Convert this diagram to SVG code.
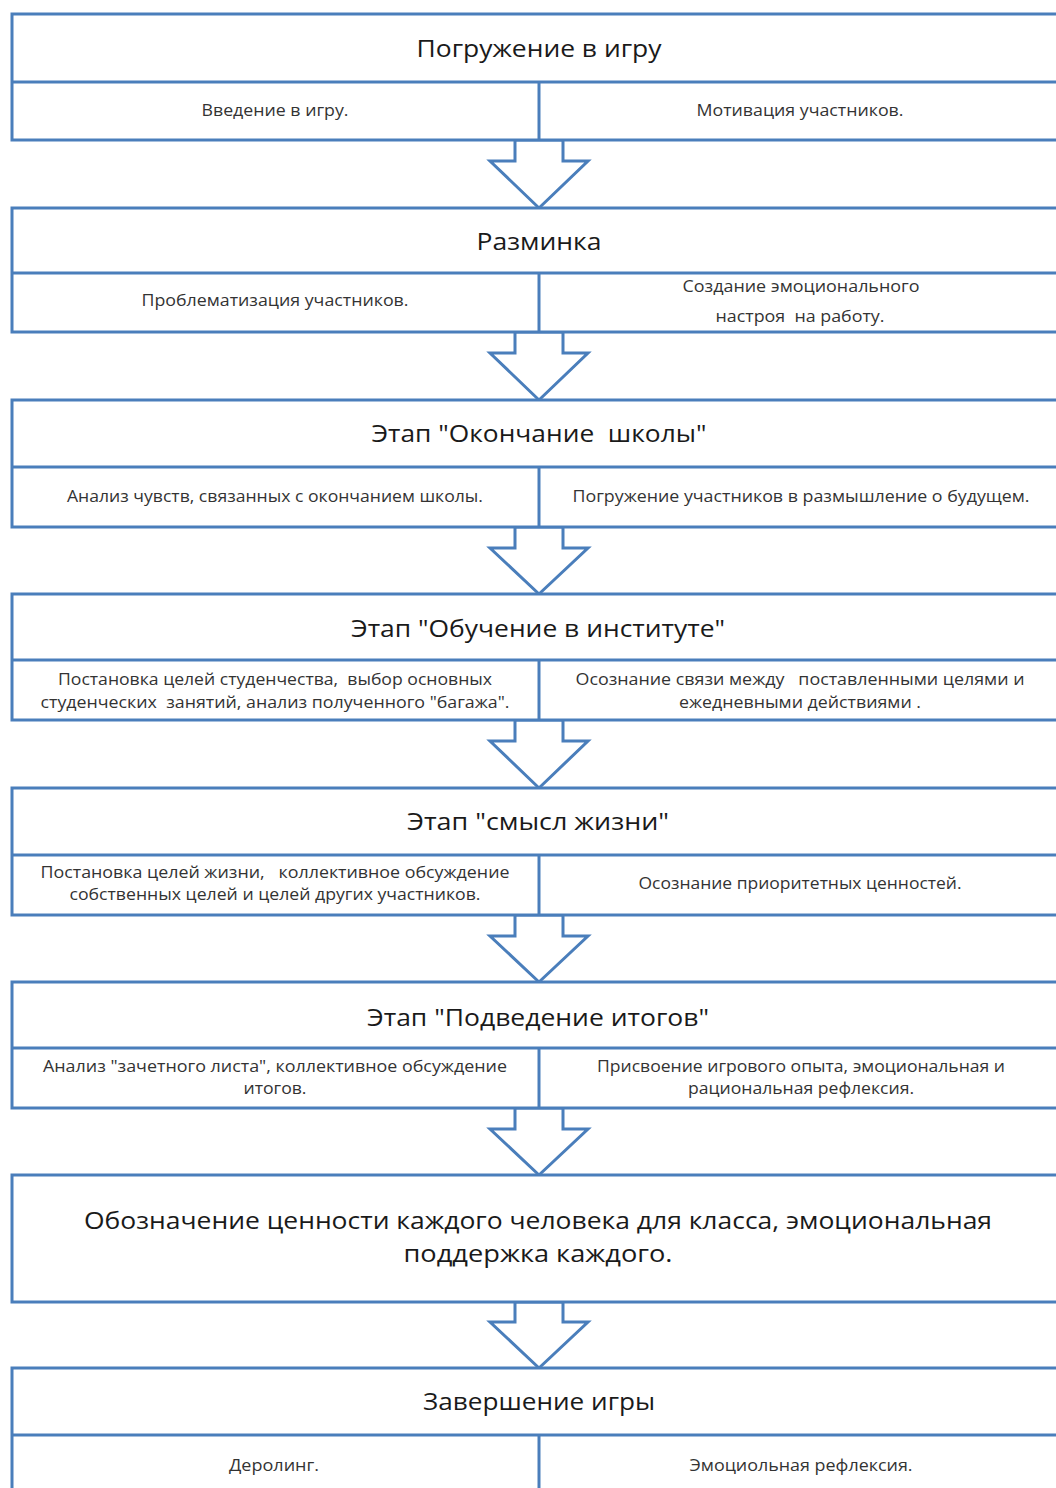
<svg xmlns="http://www.w3.org/2000/svg" width="1056" height="1488" viewBox="0 0 1056 1488">
<style>
.box{fill:#fff;stroke:#4a7ebb;stroke-width:3}
.ln{stroke:#4a7ebb;stroke-width:3;fill:none}
.arr{fill:#fff;stroke:#4a7ebb;stroke-width:3;stroke-linejoin:miter}
.h{font-family:"Open Sans","Liberation Sans",sans-serif;font-size:23px;fill:#1a1a1a;text-anchor:middle}
.s{font-family:"Open Sans","Liberation Sans",sans-serif;font-size:15.5px;fill:#333;text-anchor:middle}
</style>
<rect width="1056" height="1488" fill="#fff"/>
<g id="connectors">
<polygon class="arr" points="515,140 563,140 563,161 588,161 539,208 490,161 515,161"/>
<polygon class="arr" points="515,332 563,332 563,353 588,353 539,400 490,353 515,353"/>
<polygon class="arr" points="515,527 563,527 563,548 588,548 539,594 490,548 515,548"/>
<polygon class="arr" points="515,720 563,720 563,741 588,741 539,788 490,741 515,741"/>
<polygon class="arr" points="515,915 563,915 563,936 588,936 539,982 490,936 515,936"/>
<polygon class="arr" points="515,1108 563,1108 563,1129 588,1129 539,1175 490,1129 515,1129"/>
<polygon class="arr" points="515,1302 563,1302 563,1322 588,1322 539,1368 490,1322 515,1322"/>
</g>
<g id="n1">
<rect class="box" x="12" y="14" width="1060" height="126"/>
<line class="ln" x1="12" y1="82" x2="1072" y2="82"/>
<line class="ln" x1="539" y1="82" x2="539" y2="140"/>
<text class="h" x="539" y="57" textLength="245" lengthAdjust="spacingAndGlyphs">Погружение в игру</text>
<text class="s" x="275" y="116" textLength="147" lengthAdjust="spacingAndGlyphs">Введение в игру.</text>
<text class="s" x="800" y="116" textLength="207" lengthAdjust="spacingAndGlyphs">Мотивация участников.</text>
</g>
<g id="n2">
<rect class="box" x="12" y="208" width="1060" height="124"/>
<line class="ln" x1="12" y1="273" x2="1072" y2="273"/>
<line class="ln" x1="539" y1="273" x2="539" y2="332"/>
<text class="h" x="539" y="250" textLength="125" lengthAdjust="spacingAndGlyphs">Разминка</text>
<text class="s" x="275" y="306" textLength="267" lengthAdjust="spacingAndGlyphs">Проблематизация участников.</text>
<text class="s" x="801" y="292" textLength="237" lengthAdjust="spacingAndGlyphs">Создание эмоционального</text>
<text class="s" x="800" y="322" textLength="169" lengthAdjust="spacingAndGlyphs" xml:space="preserve">настроя  на работу.</text>
</g>
<g id="n3">
<rect class="box" x="12" y="400" width="1060" height="127"/>
<line class="ln" x1="12" y1="467" x2="1072" y2="467"/>
<line class="ln" x1="539" y1="467" x2="539" y2="527"/>
<text class="h" x="539" y="442" textLength="335" lengthAdjust="spacingAndGlyphs" xml:space="preserve">Этап "Окончание  школы"</text>
<text class="s" x="275" y="502" textLength="416" lengthAdjust="spacingAndGlyphs">Анализ чувств, связанных с окончанием школы.</text>
<text class="s" x="801" y="502" textLength="457" lengthAdjust="spacingAndGlyphs">Погружение участников в размышление о будущем.</text>
</g>
<g id="n4">
<rect class="box" x="12" y="594" width="1060" height="126"/>
<line class="ln" x1="12" y1="660" x2="1072" y2="660"/>
<line class="ln" x1="539" y1="660" x2="539" y2="720"/>
<text class="h" x="538" y="637" textLength="374" lengthAdjust="spacingAndGlyphs">Этап "Обучение в институте"</text>
<text class="s" x="275" y="685" textLength="434" lengthAdjust="spacingAndGlyphs" xml:space="preserve">Постановка целей студенчества,  выбор основных</text>
<text class="s" x="275" y="708" textLength="469" lengthAdjust="spacingAndGlyphs" xml:space="preserve">студенческих  занятий, анализ полученного "багажа".</text>
<text class="s" x="800" y="685" textLength="449" lengthAdjust="spacingAndGlyphs" xml:space="preserve">Осознание связи между   поставленными целями и</text>
<text class="s" x="800" y="708" textLength="242" lengthAdjust="spacingAndGlyphs">ежедневными действиями .</text>
</g>
<g id="n5">
<rect class="box" x="12" y="788" width="1060" height="127"/>
<line class="ln" x1="12" y1="855" x2="1072" y2="855"/>
<line class="ln" x1="539" y1="855" x2="539" y2="915"/>
<text class="h" x="538" y="830" textLength="262" lengthAdjust="spacingAndGlyphs">Этап "смысл жизни"</text>
<text class="s" x="275" y="878" textLength="469" lengthAdjust="spacingAndGlyphs" xml:space="preserve">Постановка целей жизни,   коллективное обсуждение</text>
<text class="s" x="275" y="900" textLength="411" lengthAdjust="spacingAndGlyphs">собственных целей и целей других участников.</text>
<text class="s" x="800" y="889" textLength="323" lengthAdjust="spacingAndGlyphs">Осознание приоритетных ценностей.</text>
</g>
<g id="n6">
<rect class="box" x="12" y="982" width="1060" height="126"/>
<line class="ln" x1="12" y1="1048" x2="1072" y2="1048"/>
<line class="ln" x1="539" y1="1048" x2="539" y2="1108"/>
<text class="h" x="538" y="1026" textLength="342" lengthAdjust="spacingAndGlyphs">Этап "Подведение итогов"</text>
<text class="s" x="275" y="1072" textLength="464" lengthAdjust="spacingAndGlyphs">Анализ "зачетного листа", коллективное обсуждение</text>
<text class="s" x="275" y="1094" textLength="63" lengthAdjust="spacingAndGlyphs">итогов.</text>
<text class="s" x="801" y="1072" textLength="408" lengthAdjust="spacingAndGlyphs">Присвоение игрового опыта, эмоциональная и</text>
<text class="s" x="801" y="1094" textLength="226" lengthAdjust="spacingAndGlyphs">рациональная рефлексия.</text>
</g>
<g id="n7">
<rect class="box" x="12" y="1175" width="1060" height="127"/>
<text class="h" x="538" y="1229" textLength="908" lengthAdjust="spacingAndGlyphs">Обозначение ценности каждого человека для класса, эмоциональная</text>
<text class="h" x="538" y="1262" textLength="269" lengthAdjust="spacingAndGlyphs">поддержка каждого.</text>
</g>
<g id="n8">
<rect class="box" x="12" y="1368" width="1060" height="130"/>
<line class="ln" x1="12" y1="1435" x2="1072" y2="1435"/>
<line class="ln" x1="539" y1="1435" x2="539" y2="1498"/>
<text class="h" x="539" y="1410" textLength="232" lengthAdjust="spacingAndGlyphs">Завершение игры</text>
<text class="s" x="274" y="1471" textLength="90" lengthAdjust="spacingAndGlyphs">Деролинг.</text>
<text class="s" x="801" y="1471" textLength="223" lengthAdjust="spacingAndGlyphs">Эмоциольная рефлексия.</text>
</g>
</svg>
